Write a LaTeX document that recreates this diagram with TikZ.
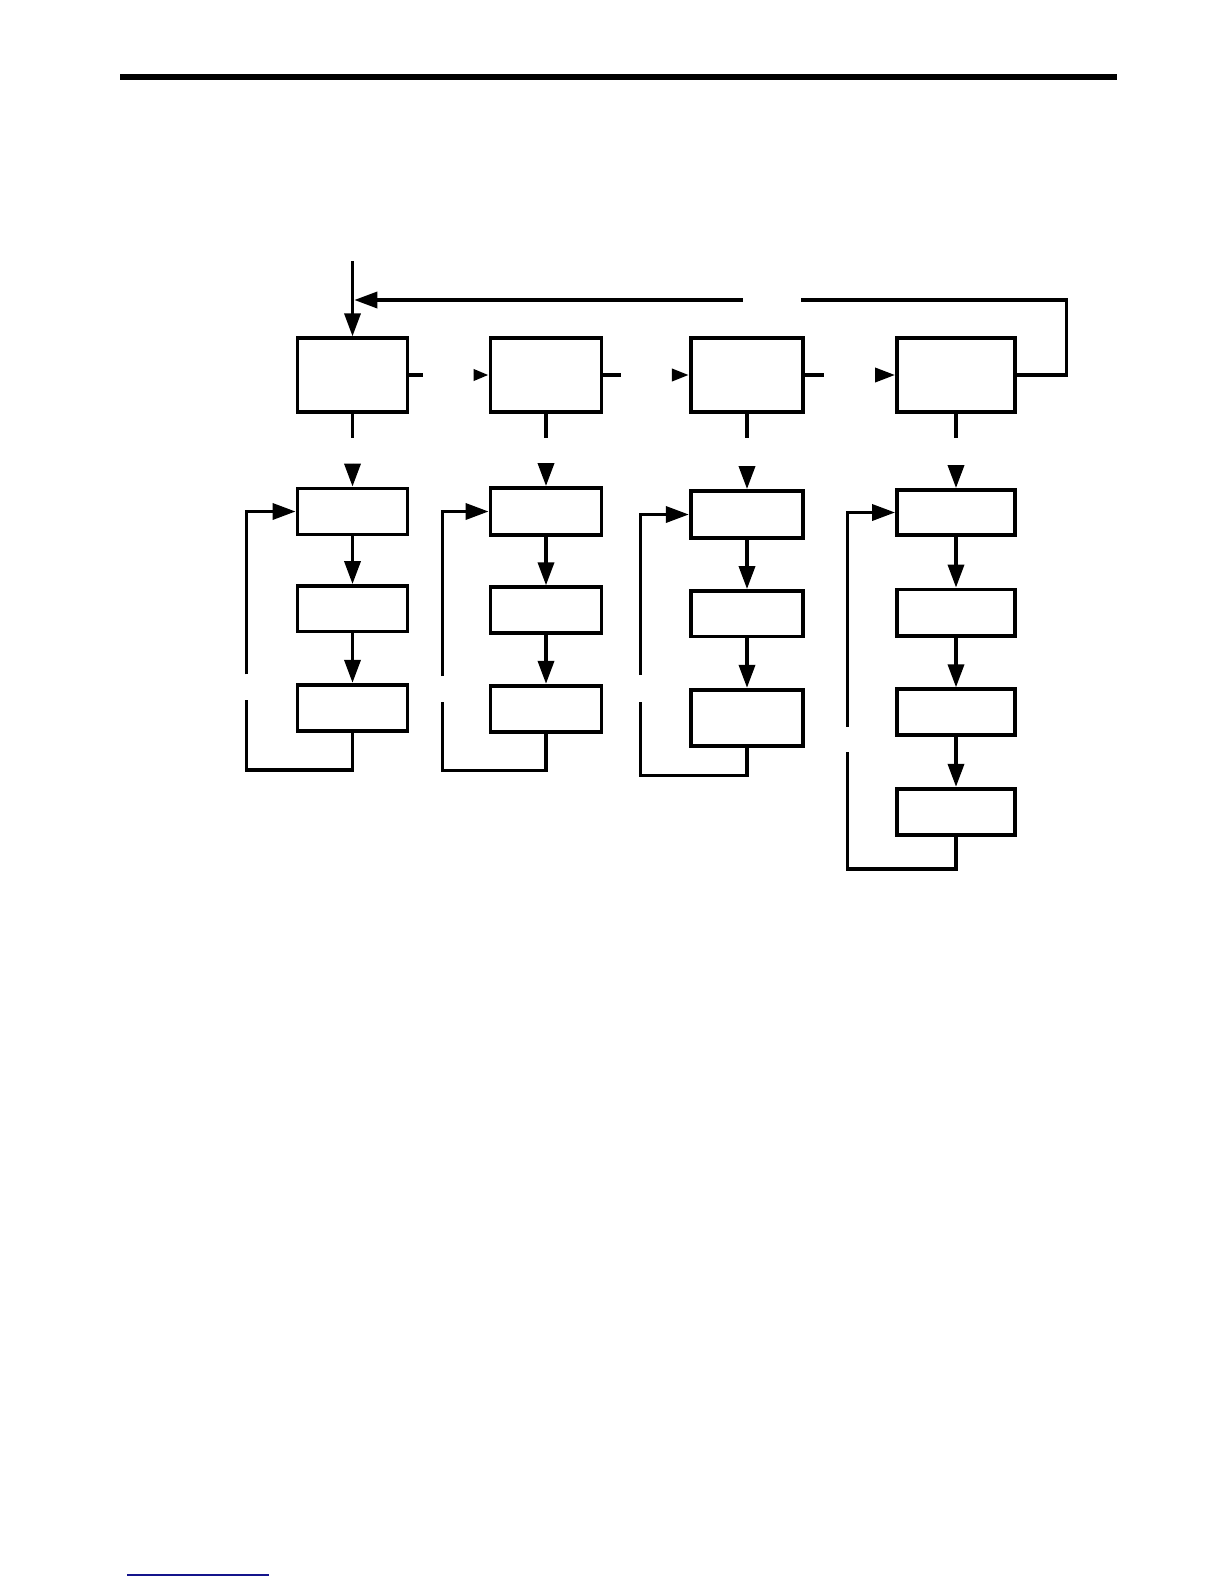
\documentclass[tikz,border=0pt]{standalone}
\usetikzlibrary{arrows.meta}
\begin{document}
\begin{tikzpicture}[x=1pt,y=-1pt,
  box/.style={draw,line width=3.8pt,inner sep=0pt,rectangle,fill=white},
  conn/.style={line width=3.5pt},
  arr/.style={conn,-{Triangle[length=23pt,width=16pt]}},
  sarrA/.style={conn,-{Triangle[length=15pt,width=11pt]}},
  sarrB/.style={conn,-{Triangle[length=17pt,width=12pt]}},
  sarrC/.style={conn,-{Triangle[length=20pt,width=14pt]}}]
\useasboundingbox (0,0) rectangle (1224,1584);
% header rule and footer link line
\draw[line width=6pt] (120,77) coordinate (r1) -- (1117,77) coordinate (r2);
\draw[line width=1.5pt,color={rgb,255:red,20;green,20;blue,140}] (127,1575) coordinate (f1) -- (269,1575) coordinate (f2);
% top boxes
\node[box,minimum width=110pt,minimum height=73.5pt] (A1) at (352.5,375) {};
\node[box,minimum width=111pt,minimum height=73.5pt] (A2) at (546,375) {};
\node[box,minimum width=112.5pt,minimum height=73.5pt] (A3) at (747,375) {};
\node[box,minimum width=118pt,minimum height=73.5pt] (A4) at (956,375) {};
% column 1
\node[box,minimum width=110pt,minimum height=46pt] (B1) at (352.5,511.5) {};
\node[box,minimum width=110pt,minimum height=45.5pt] (C1) at (352.5,608.75) {};
\node[box,minimum width=110pt,minimum height=46.5pt] (D1) at (352.5,708) {};
% column 2
\node[box,minimum width=111pt,minimum height=47pt] (B2) at (546,511.5) {};
\node[box,minimum width=111pt,minimum height=45.5pt] (C2) at (546,610) {};
\node[box,minimum width=111pt,minimum height=46.5pt] (D2) at (546,709) {};
% column 3
\node[box,minimum width=112.5pt,minimum height=47pt] (B3) at (747,514.5) {};
\node[box,minimum width=112.5pt,minimum height=45.5pt] (C3) at (747,613.75) {};
\node[box,minimum width=112.5pt,minimum height=56.5pt] (D3) at (747,718) {};
% column 4
\node[box,minimum width=118pt,minimum height=45pt] (B4) at (956,512.5) {};
\node[box,minimum width=118pt,minimum height=46.5pt] (C4) at (956,612.75) {};
\node[box,minimum width=118pt,minimum height=45.5pt] (D4) at (956,712) {};
\node[box,minimum width=118pt,minimum height=46.5pt] (E4) at (956,812) {};
% entry and top feedback
\coordinate (in) at (352.5,261);
\draw[arr] (in) -- (A1.north);
\coordinate (fbR) at (1066.5,300);
\coordinate (gapR) at (801,300);
\coordinate (gapL) at (742.7,300);
\coordinate (fbL) at (354.3,300);
\draw[conn] (A4.east) -| (fbR) -- (gapR);
\draw[arr] (gapL) -- (fbL);
% horizontal links between top boxes (broken)
\coordinate (h1) at (423,375);
\coordinate (h2) at (620.7,375);
\coordinate (h3) at (824.3,375);
\draw[conn] (A1.east) -- (h1);
\draw[sarrA] (A2.west) ++(-15,0) coordinate (h1b) -- (A2.west);
\draw[conn] (A2.east) -- (h2);
\draw[sarrB] (A3.west) ++(-17,0) coordinate (h2b) -- (A3.west);
\draw[conn] (A3.east) -- (h3);
\draw[sarrC] (A4.west) ++(-20,0) coordinate (h3b) -- (A4.west);
% vertical links top boxes -> B boxes (broken)
\foreach \c in {1,2,3,4}{
  \draw[conn] (A\c.south) -- ++(0,24) coordinate (v\c);
  \draw[arr] (B\c.north) ++(0,-23) coordinate (w\c) -- (B\c.north);
}
% chains
\draw[arr] (B1.south) -- (C1.north);
\draw[arr] (C1.south) -- (D1.north);
\draw[arr] (B2.south) -- (C2.north);
\draw[arr] (C2.south) -- (D2.north);
\draw[arr] (B3.south) -- (C3.north);
\draw[arr] (C3.south) -- (D3.north);
\draw[arr] (B4.south) -- (C4.north);
\draw[arr] (C4.south) -- (D4.north);
\draw[arr] (D4.south) -- (E4.north);
% feedback loops (broken)
\coordinate (l1d) at (246.7,770); \coordinate (l1b) at (246.7,700); \coordinate (l1a) at (246.7,674.3);
\draw[conn] (D1.south) |- (l1d) -- (l1b);
\draw[arr] (l1a) |- (B1.west);
\coordinate (l2d) at (442.3,770.7); \coordinate (l2b) at (442.3,702); \coordinate (l2a) at (442.3,676);
\draw[conn] (D2.south) |- (l2d) -- (l2b);
\draw[arr] (l2a) |- (B2.west);
\coordinate (l3d) at (640.7,775.7); \coordinate (l3b) at (640.7,701.7); \coordinate (l3a) at (640.7,675);
\draw[conn] (D3.south) |- (l3d) -- (l3b);
\draw[arr] (l3a) |- (B3.west);
\coordinate (l4d) at (847.7,869); \coordinate (l4b) at (847.7,752.3); \coordinate (l4a) at (847.7,726.7);
\draw[conn] (E4.south) |- (l4d) -- (l4b);
\draw[arr] (l4a) |- (B4.west);
\end{tikzpicture}
\end{document}
